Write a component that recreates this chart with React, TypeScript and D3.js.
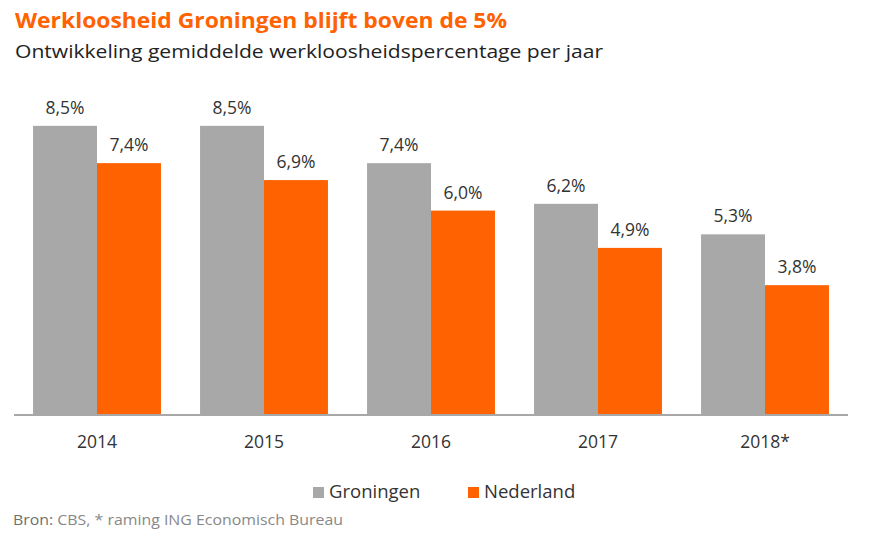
import React from "react";
import * as d3 from "d3";

const years = ["2014", "2015", "2016", "2017", "2018*"];
const series = ["Groningen", "Nederland"];
const groningen = [8.5, 8.5, 7.4, 6.2, 5.3];
const nederland = [7.4, 6.9, 6.0, 4.9, 3.8];
const colors = ["#A8A8A8", "#FF6200"];

const title = "Werkloosheid Groningen blijft boven de 5%";
const subtitle = "Ontwikkeling gemiddelde werkloosheidspercentage per jaar";
const sourceLabel = "Bron:";
const sourceText = " CBS, * raming ING Economisch Bureau";

const W = 870;
const H = 534;
const FONT = "'Open Sans', sans-serif";

export default function App() {
  const baseline = 414;
  const x0 = d3.scaleBand().domain(years).range([13.5, 848.5]).paddingInner(0.234).paddingOuter(0.117);
  const x1 = d3.scaleBand().domain(series).range([0, x0.bandwidth()]);
  const y = d3.scaleLinear().domain([0, 10]).range([baseline, baseline - 339]);
  const data = [groningen, nederland];
  const fmt = (v: number) => v.toFixed(1).replace(".", ",") + "%";

  return (
    <svg width={W} height={H} style={{ position: "absolute", left: 0, top: 0 }} fontFamily={FONT}>
      <rect width={W} height={H} fill="#fff" />
      <text x={15} y={28} fill="#FF6200" fontWeight="bold" fontSize={21} textLength={492} lengthAdjust="spacingAndGlyphs">{title}</text>
      <text x={15} y={58} fill="#222" fontSize={19} textLength={588} lengthAdjust="spacingAndGlyphs">{subtitle}</text>
      {years.map((yr, i) => (
        <g key={yr} transform={`translate(${x0(yr)},0)`}>
          {series.map((s, j) => {
            const v = data[j][i];
            const bx = x1(s)!;
            return (
              <g key={s}>
                <rect x={bx} y={y(v)} width={x1.bandwidth()} height={baseline - y(v)} fill={colors[j]} />
                <text x={bx + x1.bandwidth() / 2} y={y(v) - 12} textAnchor="middle" fontSize={17.5} fill="#333">{fmt(v)}</text>
              </g>
            );
          })}
          <text x={x0.bandwidth() / 2} y={448} textAnchor="middle" fontSize={17.5} fill="#333">{yr}</text>
        </g>
      ))}
      <line x1={14} x2={848} y1={baseline + 1} y2={baseline + 1} stroke="#A8A8A8" strokeWidth={2} />
      <g>
        <rect x={313} y={487} width={11} height={11} fill={colors[0]} />
        <text x={329} y={498} fontSize={18.5} fill="#333">{series[0]}</text>
        <rect x={468} y={487} width={11} height={11} fill={colors[1]} />
        <text x={484} y={498} fontSize={18.5} fill="#333">{series[1]}</text>
      </g>
      <text x={13} y={525} fontSize={15} fill="#888" textLength={330} lengthAdjust="spacingAndGlyphs">
        <tspan fill="#6f6f6f">{sourceLabel}</tspan>
        <tspan>{sourceText}</tspan>
      </text>
    </svg>
  );
}
